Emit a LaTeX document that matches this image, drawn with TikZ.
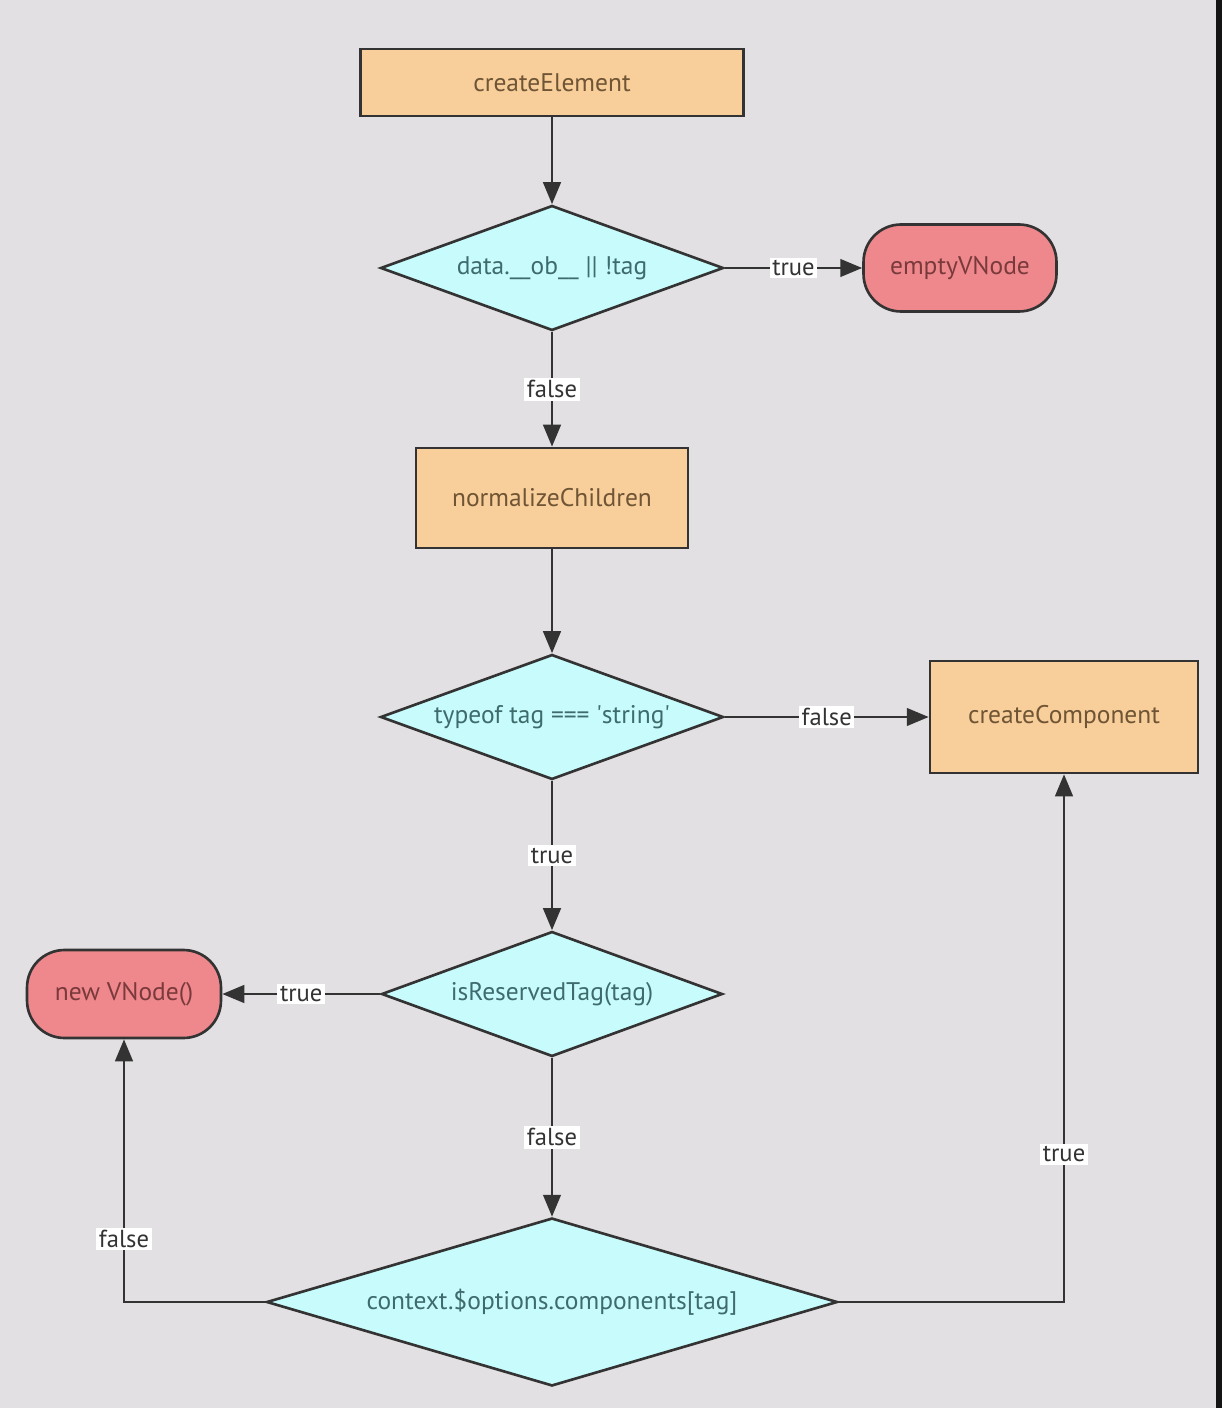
\documentclass[tikz,border=0pt]{standalone}
\usepackage{fontspec}
\setmainfont{PT Sans}
\usetikzlibrary{arrows.meta, shapes.geometric}
\definecolor{bgc}{HTML}{E2E0E2}
\definecolor{boxc}{HTML}{F8CE9A}
\definecolor{decc}{HTML}{C8FCFC}
\definecolor{endc}{HTML}{EF888C}
\definecolor{linec}{HTML}{333333}
\definecolor{boxt}{HTML}{6F5535}
\definecolor{dect}{HTML}{3F6B6D}
\definecolor{endt}{HTML}{7A3A3C}
\newcommand{\dtext}[1]{\makebox[0pt]{#1}}
\tikzset{%
    box/.style={rectangle, draw=linec, line width=1.5pt, fill=boxc, text=boxt, inner sep=0pt, font=\fontsize{14.5}{16}\selectfont},
    dec/.style={diamond, draw=linec, line width=1.5pt, fill=decc, text=dect, inner sep=0pt, font=\fontsize{14.5}{16}\selectfont},
    term/.style={rectangle, rounded corners=0.75cm, draw=linec, line width=1.5pt, fill=endc, text=endt, inner sep=0pt, font=\fontsize{14.5}{16}\selectfont},
    arr/.style={line width=1.5pt, draw=linec, -{Triangle[length=12.5pt, width=10pt]}},
    lab/.style={rectangle, fill=white, inner sep=1.5pt, text=linec, font=\fontsize{14}{16}\selectfont},
}

\begin{document}
\begin{tikzpicture}[x=0.02cm, y=-0.02cm]
    \fill[bgc] (0,0) rectangle (1222,1408);
    \fill[black!92] (1216,0) rectangle (1222,1408);
    % main column
    \node[box, minimum width=7.66cm, minimum height=1.34cm] (elem) at (552,82.5) {createElement};
    \node[dec, minimum width=6.86cm, minimum height=2.5cm] (obtag) at (552,268) {\dtext{data.\_\_ob\_\_ || !tag}};
    \node[term, minimum width=3.86cm, minimum height=1.74cm] (empty) at (960,268) {emptyVNode};
    \node[box, minimum width=5.44cm, minimum height=2cm] (norm) at (552,498) {normalizeChildren};
    \node[dec, minimum width=6.86cm, minimum height=2.5cm] (isstr) at (552,717) {\dtext{typeof tag === \textquotesingle string\textquotesingle}};
    \node[box, minimum width=5.36cm, minimum height=2.24cm] (comp) at (1064,717) {createComponent};
    \node[dec, minimum width=6.82cm, minimum height=2.5cm] (isres) at (552,994) {\dtext{isReservedTag(tag)}};
    \node[term, minimum width=3.88cm, minimum height=1.76cm] (vnode) at (124,994) {new VNode()};
    \node[dec, minimum width=11.42cm, minimum height=3.36cm] (comps) at (552,1302) {\dtext{context.\$options.components[tag]}};
    % connectors
    \draw[arr] (elem) -- (obtag);
    \draw[arr] (obtag) -- node[lab]{true} (empty);
    \draw[arr] (obtag) -- node[lab]{false} (norm);
    \draw[arr] (norm) -- (isstr);
    \draw[arr] (isstr) -- node[lab]{false} (comp);
    \draw[arr] (isstr) -- node[lab]{true} (isres);
    \draw[arr] (isres) -- node[lab]{true} (vnode);
    \draw[arr] (isres) -- node[lab]{false} (comps);
    \draw[arr] (comps.west) -| node[lab, pos=0.62]{false} (vnode.south);
    \draw[arr] (comps.east) -| node[lab, pos=0.64]{true} (comp.south);
\end{tikzpicture}
\end{document}
